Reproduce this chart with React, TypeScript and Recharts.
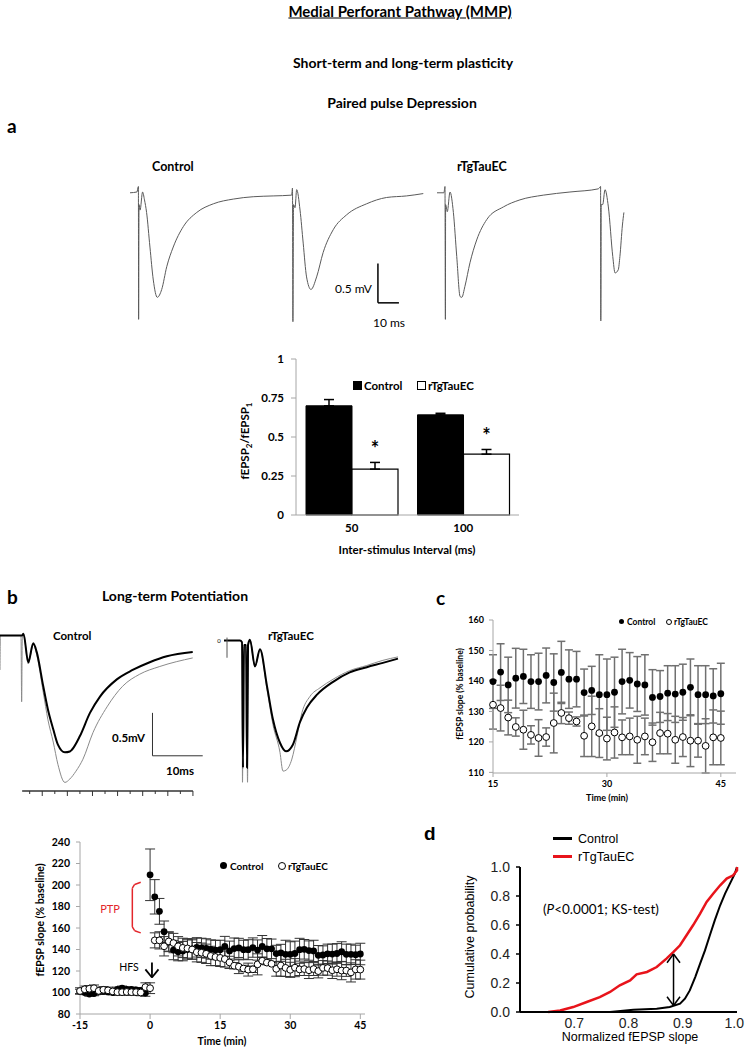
import React from 'react';
import {
  LineChart, Line, XAxis, YAxis, ReferenceLine,
  BarChart, Bar, ErrorBar, LabelList,
  ComposedChart, Scatter,
} from 'recharts';

const CAL = 'Lato, "Open Sans", sans-serif';
const ARIAL = '"Liberation Sans", Arial, sans-serif';

// ---- panel a: paired pulse traces (ms, mV) ----
const aControlTrace = [
  [0, 0], [3.3, 0.01], [4.0, 0.08], [4.1, -1.61], [4.3, -0.15], [4.8, -0.22], [6.0, 0.01], [6.9, -0.09],
  [7.9, -0.25], [9.5, -0.69], [11.1, -1.11], [13.0, -1.33], [15.1, -1.23], [17.5, -0.94], [20.6, -0.69],
  [25.4, -0.43], [31.8, -0.25], [39.7, -0.14], [49.2, -0.08], [58.7, -0.05], [68.2, -0.04], [77.0, -0.03],
  [77.4, 0.06], [77.6, -1.64], [77.9, -0.15], [78.6, -0.19], [79.4, 0.04], [81.0, -0.22], [82.5, -0.64],
  [84.1, -1.07], [86.2, -1.23], [88.9, -1.07], [92.0, -0.76], [96.8, -0.47], [103.2, -0.28], [112.7, -0.14],
  [122.2, -0.06], [131.7, -0.04], [139.7, -0.01],
];
const aTauTrace = [
  [0, 0], [3.3, 0], [3.8, 0.08], [4.0, -1.61], [4.1, -0.15], [4.9, -0.24], [6.2, 0.01], [7.8, -0.25],
  [9.4, -0.81], [11.0, -1.32], [11.8, -1.33], [13.3, -1.19], [15.7, -0.89], [18.9, -0.6], [23.7, -0.34],
  [31.6, -0.18], [39.5, -0.09], [50.6, -0.03], [63.3, 0.01], [76.8, 0.05], [77.9, 0.08], [78.0, -1.63],
  [78.2, -0.15], [78.9, -0.15], [80.0, 0.04], [81.6, -0.18], [83.7, -0.81], [84.8, -1.02], [86.3, -0.98],
  [87.1, -0.81], [88.3, -0.41], [89.0, -0.25],
];

// ---- paired pulse ratio bars ----
const isiCats = ['50', '100'];
const ppControl = [0.70, 0.642];
const ppControlErr = [0.04, 0.01];
const ppTau = [0.294, 0.39];
const ppTauErr = [0.043, 0.03];
const ppSig = ['*', '*'];

// ---- panel b traces (ms, mV) ----
const bControlBlack = [
  [-3.41, 0], [0.96, 0], [1.26, 0.02], [2.22, -0.31], [3.21, -0.09], [3.89, -0.19], [5.2, -0.59],
  [6.13, -0.86], [7.19, -1.09], [8.12, -1.27], [9.51, -1.36], [10.5, -1.35], [10.9, -1.33], [12.5, -1.17],
  [14.5, -0.9], [16.5, -0.71], [19.85, -0.51], [23.0, -0.4], [26.4, -0.31], [29.8, -0.24], [34.96, -0.19],
];
const bControlGray = [
  [-3.41, -0.4], [-3.33, 0], [0.77, 0], [0.9, -0.77], [1.02, -0.05], [1.26, 0.02], [2.22, -0.33],
  [3.21, -0.1], [3.89, -0.22], [5.2, -0.66], [6.13, -0.98], [7.19, -1.24], [8.12, -1.5], [9.51, -1.71],
  [10.5, -1.67], [11.7, -1.58], [13.1, -1.44], [15.1, -1.13], [17.9, -0.83], [21.0, -0.59], [24.4, -0.45],
  [28.4, -0.36], [34.96, -0.26],
];
const bTauBlack = [
  [0, 0], [3.18, 0], [3.58, -0.02], [3.78, -1.48], [3.98, -0.05], [4.38, -0.05], [4.58, -1.48],
  [4.78, -0.05], [5.17, 0.01], [6.16, -0.3], [7.16, -0.1], [8.55, -0.53], [9.74, -0.92], [11.13, -1.19],
  [12.33, -1.29], [13.72, -1.21], [15.11, -0.95], [16.5, -0.78], [18.5, -0.63], [21.7, -0.48], [25.0, -0.37],
  [28.4, -0.31], [31.6, -0.26], [34.6, -0.21],
];
const bTauGray = [
  [0, 0], [3.18, 0], [3.58, -0.02], [3.68, -1.65], [3.88, -0.05], [4.48, -0.05], [4.68, -1.65],
  [4.88, -0.05], [5.17, 0.01], [6.16, -0.31], [7.16, -0.11], [8.55, -0.57], [9.74, -0.98], [11.13, -1.3],
  [11.73, -1.52], [12.33, -1.51], [13.5, -1.38], [14.5, -1.12], [15.5, -0.84], [17.1, -0.65], [19.1, -0.55],
  [21.7, -0.45], [25.0, -0.35], [28.4, -0.29], [31.6, -0.23], [34.6, -0.19],
];
const bTraceTicks = [2.5, 5, 7.5, 10, 12.5, 15, 17.5, 20, 22.5, 25, 27.5, 30, 32.5, 35];

// ---- LTP time course (min, % baseline) ----
const ltpTime = [
  -15, -14, -13, -12, -11, -10, -9, -8, -7, -6, -5, -4, -3, -2, -1,
  0, 1, 2, 3, 4, 5, 6, 7, 8, 9, 10, 11, 12, 13, 14,
  15, 16, 17, 18, 19, 20, 21, 22, 23, 24, 25, 26, 27, 28, 29, 30,
  31, 32, 33, 34, 35, 36, 37, 38, 39, 40, 41, 42, 43, 44, 45,
];
const ltpControl = [
  101, 100, 98.5, 99, 100.5, 101, 100.5, 100, 103, 104, 103, 103, 102.5, 102, 99.5,
  209.5, 189, 175.5, 156.5, 147, 139.5, 138, 138.5, 140, 140.5, 142, 141.5, 141, 140, 139.5,
  139.8, 142.9, 138.7, 140.9, 141.5, 139.8, 139.8, 141.8, 139.5, 142.8, 140.6, 140.6, 136.2, 136.9, 135.5, 135.5,
  136.3, 139.8, 140.2, 139.0, 138.7, 134.6, 134.9, 136.0, 135.7, 136.3, 137.9, 135.5, 135.5, 135.1, 135.8,
];
const ltpControlErr = [
  2, 2, 2, 2, 2, 2, 2, 2, 2, 2, 2, 2, 2, 2, 3,
  24, 16, 12, 10, 9, 9, 8.5, 9, 9, 9.5, 9, 9, 9, 9, 9,
  8.8, 9.3, 9.1, 9.8, 8.9, 8.8, 9.3, 9.0, 9.4, 10.2, 9.6, 9.1, 7.7, 7.9, 13.1, 11.7,
  11.5, 10.6, 9.1, 9.0, 9.9, 9.1, 8.5, 9.0, 9.3, 9.2, 9.3, 9.5, 9.5, 8.9, 10.0,
];
const ltpTau = [
  101.4, 103, 103.5, 104, 101.5, 102.5, 102, 101, 100.3, 100.3, 100.5, 100.3, 100.3, 100, 105,
  104, 148.5, 148.5, 143, 147.5, 146, 143, 141.5, 141, 140, 137.5, 137, 136, 134, 133,
  132.2, 131.1, 128.0, 124.9, 124.0, 122.3, 121.3, 121.6, 126.2, 129.5, 127.8, 126.7, 122.0, 125.1, 122.9, 121.1,
  123.1, 121.5, 121.8, 120.7, 121.8, 119.9, 122.9, 122.7, 120.7, 121.6, 120.4, 120.4, 118.7, 121.5, 121.3,
];
const ltpTauErr = [
  3, 3, 3, 3, 3, 3, 3, 3, 3, 3, 3, 3, 3, 3, 4,
  5, 7, 8, 9, 9, 9, 9, 9, 9, 9, 9, 9, 9, 9, 8,
  8, 7.5, 5.7, 3, 6.4, 3, 6, 3, 9.8, 3.5, 2, 1.5, 6.8, 9.9, 8, 7,
  8.4, 5.7, 6, 7.7, 6, 6.3, 6.8, 6.6, 7.7, 6.4, 8.5, 5.4, 8.9, 9, 8.8,
];
const ptpBracket = [[-2.0, 202.5], [-3.3, 200.5], [-3.8, 197], [-3.8, 161], [-3.3, 157.5], [-2.0, 155.5]];
const hfsArrow = { t: 0.4, top: 128, tip: 114, half: 1.4, head: 7.5 };

// ---- panel d cumulative distributions ----
const cdfControl = [
  [0.766, 0.0], [0.809, 0.016], [0.852, 0.023], [0.876, 0.034], [0.895, 0.057], [0.904, 0.092], [0.913, 0.149],
  [0.923, 0.241], [0.932, 0.333], [0.941, 0.425], [0.95, 0.529], [0.959, 0.632], [0.969, 0.736], [0.978, 0.816],
  [0.987, 0.885], [0.996, 0.954], [1.0, 1.0],
];
const cdfTau = [
  [0.652, 0.0], [0.674, 0.011], [0.698, 0.034], [0.723, 0.069], [0.747, 0.103], [0.766, 0.138], [0.784, 0.184],
  [0.803, 0.218], [0.815, 0.26], [0.834, 0.276], [0.852, 0.31], [0.87, 0.368], [0.883, 0.414], [0.895, 0.46],
  [0.907, 0.529], [0.919, 0.598], [0.932, 0.678], [0.944, 0.759], [0.956, 0.816], [0.969, 0.874], [0.981, 0.92],
  [0.993, 0.943], [1.0, 0.977], [1.0, 1.0],
];
const ksArrow = { x: 0.883, lo: 0.045, hi: 0.4, half: 0.012, head: 0.06 };

const tracePts = (arr: number[][]) => arr.map(([t, v]) => ({ t, v }));
const cdfPts = (arr: number[][]) => arr.map(([x, p]) => ({ x, p }));
const ppRows = isiCats.map((cat, i) => ({
  cat, ctrl: ppControl[i], ctrlErr: [0, ppControlErr[i]], tau: ppTau[i], tauErr: [0, ppTauErr[i]], sig: ppSig[i],
}));
const ctrlRows = ltpTime.map((t, i) => ({ t, v: ltpControl[i], e: ltpControlErr[i] }));
const tauRows = ltpTime.map((t, i) => ({ t, v: ltpTau[i], e: ltpTauErr[i] }));
const ctrlLate = ctrlRows.filter((r) => r.t >= 15);
const tauLate = tauRows.filter((r) => r.t >= 15);

// eslint-disable-next-line @typescript-eslint/no-explicit-any
const Txt = ({ x, y, size = 12, bold, anchor = 'start', color = '#000', font = CAL, rotate = 0, underline, children }: any) => {
  const tx = anchor === 'middle' ? '-50%' : anchor === 'end' ? '-100%' : '0%';
  return (
    <div
      style={{
        position: 'absolute', left: x, top: y,
        transform: `translate(${tx}, -50%)` + (rotate ? ` rotate(${rotate}deg)` : ''),
        fontFamily: font, fontSize: size, fontWeight: bold ? 700 : 400, color,
        whiteSpace: 'nowrap', lineHeight: 1, textDecoration: underline ? 'underline' : 'none',
      }}
    >
      {children}
    </div>
  );
};

// eslint-disable-next-line @typescript-eslint/no-explicit-any
const Box = ({ x, y, children }: any) => (
  <div style={{ position: 'absolute', left: x, top: y }}>{children}</div>
);

// eslint-disable-next-line @typescript-eslint/no-explicit-any
const FilledDot = (p: any) => <circle cx={p.cx} cy={p.cy} r={3.4} fill="#000" />;
// eslint-disable-next-line @typescript-eslint/no-explicit-any
const OpenDot = (p: any) => <circle cx={p.cx} cy={p.cy} r={3.4} fill="#fff" stroke="#000" strokeWidth={1} />;

// eslint-disable-next-line @typescript-eslint/no-explicit-any
const ScaleTick = (p: any) => {
  const len = p.payload.value % 5 === 0 ? 5 : 3;
  return <line x1={p.x} x2={p.x} y1={p.y} y2={p.y + len} stroke="#333" strokeWidth={1} />;
};

// last label sits against the page edge, as in the figure
// eslint-disable-next-line @typescript-eslint/no-explicit-any
const CdfTick = (p: any) => {
  const last = p.payload.value >= 1;
  return (
    <text x={last ? p.x + 7 : p.x} y={p.y} dy="0.71em" textAnchor={last ? 'end' : 'middle'} fontSize={14} fill="#222" fontFamily={ARIAL}>
      {p.payload.value.toFixed(1)}
    </text>
  );
};

// eslint-disable-next-line @typescript-eslint/no-explicit-any
const Star = (p: any) => {
  const { x, y, width, height, index, value } = p;
  const errPx = (ppTauErr[index] * height) / ppTau[index];
  return (
    <text x={x + width / 2} y={y - errPx - 6} textAnchor="middle" fontSize={20} fontWeight={700} fontFamily={CAL} fill="#000">
      {value}
    </text>
  );
};

const segs = (pts: number[][], stroke: string, w: number, key: string) =>
  pts.slice(1).map((p, i) => (
    <ReferenceLine
      key={`${key}${i}`}
      segment={[{ x: pts[i][0], y: pts[i][1] }, { x: p[0], y: p[1] }]}
      stroke={stroke}
      strokeWidth={w}
      ifOverflow="visible"
    />
  ));

const boldTick = (size: number) => ({ fontSize: size, fontWeight: 700, fill: '#000', fontFamily: CAL });
const grayAxis = { stroke: '#a6a6a6' };

export default function App() {
  return (
    <div style={{ position: 'absolute', left: 0, top: 0, width: 745, height: 1050, background: '#fff', overflow: 'hidden' }}>
      <Txt x={400} y={11} size={15} bold anchor="middle" underline>Medial Perforant Pathway (MMP)</Txt>
      <Txt x={403} y={63} size={14} bold anchor="middle">Short-term and long-term plasticity</Txt>
      <Txt x={402} y={103} size={14} bold anchor="middle">Paired pulse Depression</Txt>
      <Txt x={7} y={125} size={19} bold>a</Txt>

      {/* panel a traces */}
      <Txt x={152} y={167} size={12.5} bold>Control</Txt>
      <Txt x={457} y={167} size={12.5} bold>rTgTauEC</Txt>
      <Box x={130} y={181}>
        <LineChart width={296} height={147} margin={{ top: 0, right: 0, bottom: 0, left: 0 }}>
          <XAxis type="number" dataKey="t" domain={[0, 141]} hide />
          <YAxis type="number" domain={[-1.72, 0.15]} hide />
          <Line data={tracePts(aControlTrace)} dataKey="v" type="monotone" stroke="#5a5a5a" strokeWidth={1} dot={false} isAnimationActive={false} />
          <ReferenceLine segment={[{ x: 118.1, y: -0.9 }, { x: 118.1, y: -1.4 }]} stroke="#000" strokeWidth={1.5} ifOverflow="visible" />
          <ReferenceLine segment={[{ x: 118.1, y: -1.4 }, { x: 128.1, y: -1.4 }]} stroke="#000" strokeWidth={1.5} ifOverflow="visible" />
        </LineChart>
      </Box>
      <Box x={437} y={181}>
        <LineChart width={189} height={147} margin={{ top: 0, right: 0, bottom: 0, left: 0 }}>
          <XAxis type="number" dataKey="t" domain={[0, 90]} hide />
          <YAxis type="number" domain={[-1.72, 0.15]} hide />
          <Line data={tracePts(aTauTrace)} dataKey="v" type="monotone" stroke="#5a5a5a" strokeWidth={1} dot={false} isAnimationActive={false} />
        </LineChart>
      </Box>
      <Txt x={372} y={289} size={12} anchor="end">0.5 mV</Txt>
      <Txt x={373} y={323} size={12}>10 ms</Txt>

      {/* paired pulse bars */}
      <div style={{ position: 'absolute', left: 353, top: 381, width: 9, height: 9, background: '#000' }} />
      <Txt x={364} y={385.5} size={11.5} bold>Control</Txt>
      <div style={{ position: 'absolute', left: 417, top: 381, width: 7, height: 7, border: '1px solid #000', background: '#fff' }} />
      <Txt x={428} y={385.5} size={11.5} bold>rTgTauEC</Txt>
      <Txt x={246} y={441} size={11.5} bold anchor="middle" rotate={-90}>
        fEPSP<sub style={{ fontSize: 8 }}>2</sub>/fEPSP<sub style={{ fontSize: 8 }}>1</sub>
      </Txt>
      <Box x={246} y={349}>
        <BarChart width={278} height={191} data={ppRows} margin={{ top: 10, right: 5, bottom: 0, left: 0 }} barCategoryGap={10} barGap={0}>
          <XAxis dataKey="cat" height={25} tickLine={false} axisLine={grayAxis} tick={boldTick(11.5)} tickMargin={3} interval={0} />
          <YAxis width={50} domain={[0, 1]} ticks={[0, 0.25, 0.5, 0.75, 1]} tickSize={5} tickMargin={7} axisLine={grayAxis} tickLine={grayAxis} tick={boldTick(11.5)} interval={0} />
          <Bar dataKey="ctrl" fill="#000" stroke="#000" strokeWidth={1} isAnimationActive={false}>
            <ErrorBar dataKey="ctrlErr" direction="y" width={5} stroke="#000" strokeWidth={1.5} />
          </Bar>
          <Bar dataKey="tau" fill="#fff" stroke="#000" strokeWidth={1.2} isAnimationActive={false}>
            <ErrorBar dataKey="tauErr" direction="y" width={5} stroke="#000" strokeWidth={1.5} />
            <LabelList dataKey="sig" content={Star} />
          </Bar>
        </BarChart>
      </Box>
      <Txt x={407} y={550} size={11.5} bold anchor="middle">Inter-stimulus Interval (ms)</Txt>

      {/* panel b */}
      <Txt x={7} y={596} size={19} bold>b</Txt>
      <Txt x={175} y={596} size={14} bold anchor="middle">Long-term Potentiation</Txt>
      <Txt x={53} y={636} size={11.5} bold>Control</Txt>
      <Txt x={268} y={636} size={11.5} bold>rTgTauEC</Txt>
      <Box x={0} y={627}>
        <LineChart width={208} height={172} margin={{ top: 0, right: 0, bottom: 0, left: 0 }}>
          <XAxis
            type="number" dataKey="t" domain={[-3.41, 38]} ticks={bTraceTicks} interval={0}
            height={8} axisLine={false} tickLine={false} tickSize={0} tickMargin={0} tick={ScaleTick}
          />
          <YAxis type="number" domain={[-1.81, 0.1]} hide />
          <Line data={tracePts(bControlGray)} dataKey="v" type="monotone" stroke="#8a8a8a" strokeWidth={1} dot={false} isAnimationActive={false} />
          <Line data={tracePts(bControlBlack)} dataKey="v" type="monotone" stroke="#000" strokeWidth={2} dot={false} isAnimationActive={false} />
          <ReferenceLine segment={[{ x: 1, y: -1.81 }, { x: 35, y: -1.81 }]} stroke="#333" strokeWidth={1.5} ifOverflow="visible" />
          <ReferenceLine segment={[{ x: 26.95, y: -0.9 }, { x: 26.95, y: -1.4 }]} stroke="#333" strokeWidth={1} ifOverflow="visible" />
          <ReferenceLine segment={[{ x: 26.95, y: -1.4 }, { x: 36.95, y: -1.4 }]} stroke="#333" strokeWidth={1} ifOverflow="visible" />
        </LineChart>
      </Box>
      <Txt x={112} y={738} size={11.5} bold>0.5mV</Txt>
      <Txt x={166} y={771} size={11.5} bold>10ms</Txt>
      <Box x={216} y={632}>
        <LineChart width={189} height={164} margin={{ top: 0, right: 0, bottom: 0, left: 0 }}>
          <XAxis type="number" dataKey="t" domain={[-1.59, 36]} hide />
          <YAxis type="number" domain={[-1.81, 0.1]} hide />
          <Line data={tracePts(bTauGray)} dataKey="v" type="monotone" stroke="#8a8a8a" strokeWidth={1} dot={false} isAnimationActive={false} />
          <Line data={tracePts(bTauBlack)} dataKey="v" type="monotone" stroke="#000" strokeWidth={2} dot={false} isAnimationActive={false} />
          <ReferenceLine segment={[{ x: 0.6, y: 0.035 }, { x: 0.6, y: -0.2 }]} stroke="#555" strokeWidth={1} ifOverflow="visible" />
        </LineChart>
      </Box>
      <Txt x={219} y={641} size={6} anchor="middle">0</Txt>

      {/* LTP time course */}
      <Txt x={40} y={920} size={10.5} bold anchor="middle" rotate={-90}>fEPSP slope (% baseline)</Txt>
      <div style={{ position: 'absolute', left: 220, top: 862, width: 7, height: 7, borderRadius: '50%', background: '#000' }} />
      <Txt x={230} y={865.5} size={10} bold>Control</Txt>
      <div style={{ position: 'absolute', left: 278, top: 862, width: 6, height: 6, borderRadius: '50%', border: '1px solid #000' }} />
      <Txt x={288} y={865.5} size={10} bold>rTgTauEC</Txt>
      <Txt x={110} y={908} size={11} color="#e3262b" anchor="middle">PTP</Txt>
      <Txt x={129} y={967} size={10.5} anchor="middle">HFS</Txt>
      <Box x={30} y={837}>
        <ComposedChart width={340} height={207} margin={{ top: 5, right: 5, bottom: 0, left: 0 }}>
          <XAxis
            type="number" dataKey="t" domain={[-15, 46]} ticks={[-15, 0, 15, 30, 45]} interval={0}
            height={30} tickSize={5} tickMargin={3} axisLine={grayAxis} tickLine={grayAxis} tick={boldTick(10.5)}
          />
          <YAxis
            type="number" domain={[80, 240]} ticks={[80, 100, 120, 140, 160, 180, 200, 220, 240]} interval={0}
            width={50} tickSize={4} tickMargin={6} axisLine={grayAxis} tickLine={grayAxis} tick={boldTick(10.5)}
          />
          <Scatter data={ctrlRows} dataKey="v" shape={FilledDot} isAnimationActive={false}>
            <ErrorBar dataKey="e" direction="y" width={5} stroke="#333" strokeWidth={1} />
          </Scatter>
          <Scatter data={tauRows} dataKey="v" shape={OpenDot} isAnimationActive={false}>
            <ErrorBar dataKey="e" direction="y" width={5} stroke="#333" strokeWidth={1} />
          </Scatter>
          {segs(ptpBracket, '#e3262b', 1.5, 'ptp')}
          <ReferenceLine segment={[{ x: hfsArrow.t, y: hfsArrow.top }, { x: hfsArrow.t, y: hfsArrow.tip }]} stroke="#000" strokeWidth={1.8} ifOverflow="visible" />
          {segs([
            [hfsArrow.t - hfsArrow.half, hfsArrow.tip + hfsArrow.head],
            [hfsArrow.t, hfsArrow.tip],
            [hfsArrow.t + hfsArrow.half, hfsArrow.tip + hfsArrow.head],
          ], '#000', 1.8, 'hfs')}
        </ComposedChart>
      </Box>
      <Txt x={222} y={1041} size={10.5} bold anchor="middle">Time (min)</Txt>

      {/* panel c */}
      <Txt x={436} y={597} size={19} bold>c</Txt>
      <div style={{ position: 'absolute', left: 619, top: 619, width: 5, height: 5, borderRadius: '50%', background: '#000' }} />
      <Txt x={627} y={622} size={8.5} bold>Control</Txt>
      <div style={{ position: 'absolute', left: 666, top: 619, width: 4, height: 4, borderRadius: '50%', border: '1px solid #000' }} />
      <Txt x={674} y={622} size={8.5} bold>rTgTauEC</Txt>
      <Txt x={460} y={694} size={8.5} bold anchor="middle" rotate={-90}>fEPSP slope (% baseline)</Txt>
      <Box x={453} y={610}>
        <ComposedChart width={288} height={183} margin={{ top: 10, right: 5, bottom: 0, left: 0 }}>
          <XAxis
            type="number" dataKey="t" domain={[15, 47]} ticks={[15, 30, 45]} interval={0}
            height={20} tickSize={4} tickMargin={4} axisLine={grayAxis} tickLine={grayAxis} tick={boldTick(9)}
          />
          <YAxis
            type="number" domain={[110, 160]} ticks={[110, 120, 130, 140, 150, 160]} interval={0}
            width={40} tickSize={4} tickMargin={5} axisLine={grayAxis} tickLine={grayAxis} tick={boldTick(9)}
          />
          <Scatter data={ctrlLate} dataKey="v" shape={FilledDot} isAnimationActive={false}>
            <ErrorBar dataKey="e" direction="y" width={4} stroke="#707070" strokeWidth={1.5} />
          </Scatter>
          <Scatter data={tauLate} dataKey="v" shape={OpenDot} isAnimationActive={false}>
            <ErrorBar dataKey="e" direction="y" width={4} stroke="#707070" strokeWidth={1.5} />
          </Scatter>
        </ComposedChart>
      </Box>
      <Txt x={607} y={797} size={9} bold anchor="middle">Time (min)</Txt>

      {/* panel d */}
      <Txt x={424} y={833} size={19} bold font={ARIAL}>d</Txt>
      <div style={{ position: 'absolute', left: 553, top: 837, width: 19, height: 3, background: '#000' }} />
      <Txt x={578} y={838.5} size={12.5} font={ARIAL}>Control</Txt>
      <div style={{ position: 'absolute', left: 553, top: 855, width: 19, height: 3, background: '#e8141b' }} />
      <Txt x={578} y={856.5} size={12.5} font={ARIAL}>rTgTauEC</Txt>
      <Txt x={543} y={910} size={13.5}>(<i>P</i>&lt;0.0001; KS-test)</Txt>
      <Txt x={470} y={937} size={12.5} font={ARIAL} anchor="middle" rotate={-90}>Cumulative probability</Txt>
      <Box x={475} y={855}>
        <LineChart width={270} height={179} margin={{ top: 12, right: 8, bottom: 0, left: 0 }}>
          <XAxis
            type="number" dataKey="x" domain={[0.6, 1.0]} ticks={[0.7, 0.8, 0.9, 1.0]} interval={0}
            height={22} tickLine={false} tickSize={0} tickMargin={6}
            axisLine={{ stroke: '#000', strokeWidth: 2 }} tick={CdfTick}
          />
          <YAxis
            type="number" domain={[0, 1]} ticks={[0, 0.2, 0.4, 0.6, 0.8, 1.0]} interval={0}
            tickFormatter={(v: number) => v.toFixed(1)} width={45} tickSize={4} tickMargin={6}
            axisLine={{ stroke: '#000', strokeWidth: 2 }} tickLine={{ stroke: '#000', strokeWidth: 1.5 }}
            tick={{ fontSize: 14, fill: '#222', fontFamily: ARIAL }}
          />
          <Line data={cdfPts(cdfControl)} dataKey="p" type="linear" stroke="#000" strokeWidth={2} dot={false} isAnimationActive={false} />
          <Line data={cdfPts(cdfTau)} dataKey="p" type="linear" stroke="#e8141b" strokeWidth={2.5} dot={false} isAnimationActive={false} />
          <ReferenceLine segment={[{ x: ksArrow.x, y: ksArrow.lo }, { x: ksArrow.x, y: ksArrow.hi }]} stroke="#000" strokeWidth={1.5} ifOverflow="visible" />
          {segs([
            [ksArrow.x - ksArrow.half, ksArrow.hi - ksArrow.head],
            [ksArrow.x, ksArrow.hi],
            [ksArrow.x + ksArrow.half, ksArrow.hi - ksArrow.head],
          ], '#000', 1.5, 'kshi')}
          {segs([
            [ksArrow.x - ksArrow.half, ksArrow.lo + ksArrow.head],
            [ksArrow.x, ksArrow.lo],
            [ksArrow.x + ksArrow.half, ksArrow.lo + ksArrow.head],
          ], '#000', 1.5, 'kslo')}
        </LineChart>
      </Box>
      <Txt x={630} y={1037} size={12.5} font={ARIAL} anchor="middle">Normalized fEPSP slope</Txt>
    </div>
  );
}
